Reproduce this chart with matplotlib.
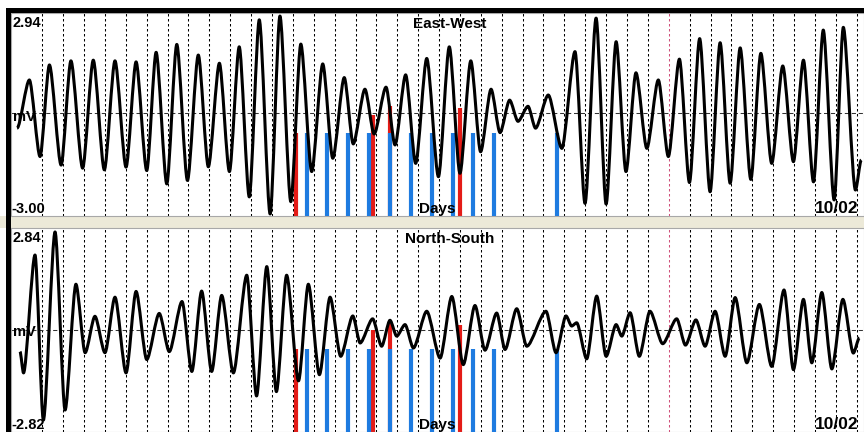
import matplotlib
matplotlib.use("Agg")
import matplotlib.pyplot as plt
from matplotlib.patches import Rectangle, PathPatch
from matplotlib.path import Path

plt.rcParams['font.family'] = ['Liberation Sans', 'DejaVu Sans']
plt.rcParams['lines.scale_dashes'] = False

# East-West channel: turning points (day, mV)
ew_day = [-1.21, -0.62, -0.11, 0.34, 0.90, 1.37, 1.93, 2.44, 2.97, 3.48, 4.01, 4.49, 5.00, 5.45,
          5.96, 6.44, 6.95, 7.47, 7.95, 8.48, 8.96, 9.43, 9.91, 10.39, 10.91, 11.38, 11.90, 12.38,
          12.90, 13.43, 13.91, 14.46, 14.89, 15.45, 15.89, 16.46, 16.89, 17.40, 17.88, 18.41, 18.97,
          19.49, 20.00, 20.52, 20.99, 21.49, 21.92, 22.38, 22.78, 23.26, 23.62, 24.23, 24.88, 25.51,
          25.99, 26.52, 27.00, 27.48, 27.95, 28.43, 28.95, 29.50, 29.98, 30.51, 30.99, 31.48, 31.98,
          32.46, 32.94, 33.42, 33.93, 34.41, 34.93, 35.46, 35.97, 36.45, 36.93, 37.40, 37.92, 38.36,
          38.94, 39.22]
ew_mv = [-0.43, 0.98, -1.26, 1.42, -1.51, 1.54, -1.60, 1.56, -1.65, 1.54, -1.57, 1.51, -1.67, 1.79,
         -2.06, 2.02, -1.96, 1.71, -1.56, 1.47, -1.70, 1.95, -2.44, 2.74, -2.94, 2.85, -2.58, 2.03,
         -1.70, 1.45, -1.31, 1.05, -0.89, 0.71, -0.60, 0.77, -0.92, 1.13, -1.46, 1.61, -1.85,
         1.95, -1.75, 1.54, -1.12, 0.71, -0.56, 0.39, -0.23, 0.21, -0.43, 0.54, -1.02, 1.81,
         -2.63, 2.79, -2.65, 2.10, -1.70, 1.19, -1.02, 0.98, -1.26, 1.59, -2.02, 2.19, -2.29,
         2.07, -2.04, 1.92, -1.93, 1.76, -1.46, 1.39, -1.41, 1.56, -2.00, 2.44, -2.53, 2.52,
         -2.24, -1.36]

# North-South channel
ns_day = [-1.07, -0.90, -0.35, 0.05, 0.61, 1.09, 1.61, 2.05, 2.52, 3.00, 3.48, 4.01, 4.49, 5.00,
          5.60, 6.08, 6.69, 7.16, 7.63, 8.11, 8.59, 9.15, 9.79, 10.26, 10.75, 11.21, 11.70, 12.27,
          12.74, 13.27, 13.78, 14.29, 14.87, 15.22, 15.82, 16.25, 16.65, 16.97, 17.37, 17.77, 18.41,
          19.05, 19.61, 20.16, 20.72, 21.20, 21.76, 22.16, 22.72, 23.20, 24.12, 24.60, 25.08, 25.35,
          25.59, 26.07, 26.55, 27.00, 27.48, 27.75, 28.15, 28.59, 29.10, 29.71, 30.38, 30.80, 31.30,
          31.74, 32.22, 32.70, 33.18, 33.74, 34.34, 34.93, 35.52, 35.97, 36.45, 36.85, 37.33, 37.81,
          38.34, 38.84, 39.13]
ns_mv = [-0.59, -1.18, 2.09, -2.49, 2.73, -2.21, 1.28, -0.62, 0.39, -0.62, 0.92, -1.18, 1.08, -0.81,
         0.47, -0.59, 0.80, -1.14, 1.09, -1.14, 0.97, -1.18, 1.53, -1.82, 1.77, -1.70, 1.53, -1.40,
         1.28, -1.23, 0.92, -0.72, 0.40, -0.35, 0.32, -0.44, 0.28, -0.16, 0.16, -0.49, 0.53,
         -0.77, 0.94, -0.95, 0.69, -0.55, 0.48, -0.53, 0.60, -0.44, 0.53, -0.62, 0.40, 0.12,
         0.21, -0.79, 0.95, -0.72, 0.16, -0.16, 0.49, -0.72, 0.53, -0.37, 0.32, -0.41, 0.29,
         -0.44, 0.53, -0.72, 0.91, -0.90, 0.72, -1.00, 1.12, -1.09, 0.86, -0.90, 1.05, -1.07,
         0.86, -0.63, -0.21]

# event markers
blue_days = [12.66, 13.62, 14.63, 15.66, 16.65, 17.66, 18.65, 19.65, 20.64, 21.65, 24.64]
red_days = [12.13, 15.82, 16.65, 20.0]
ew_red_top = [-0.57, -0.04, 0.22, 0.16]
ns_red_top = [-0.53, 0.0, 0.26, 0.14]
ew_blue_top = -0.57
ns_blue_top = -0.53

ew_range = (-3.00, 2.94)
ns_range = (-2.82, 2.84)
grid_days = list(range(0, 40))
red_grid_day = 30
end_label = "10/02"

W, H = 864, 432
fig = plt.figure(figsize=(W / 100, H / 100), dpi=100)
fig.patch.set_facecolor('white')

# window chrome: beige strip between panels, black frame top and left
fig.add_artist(Rectangle((0, 1 - 228 / H), 1, 12 / H, transform=fig.transFigure,
                         facecolor='#ECE9D8', edgecolor='none', zorder=0))
fig.add_artist(Rectangle((6 / W, 1 - 12.5 / H), 1, 4.5 / H, transform=fig.transFigure,
                         facecolor='black', edgecolor='none', zorder=5))
fig.add_artist(Rectangle((6 / W, 0), 4.5 / W, 1 - 8 / H, transform=fig.transFigure,
                         facecolor='black', edgecolor='none', zorder=5))

ax1 = fig.add_axes([11 / W, 1 - 216 / H, 853 / W, 203 / H])
ax2 = fig.add_axes([11 / W, 0, 853 / W, 204 / H])


def smooth_trace(days, mv):
    # cubic segments with flat tangents at each turning point
    verts = [(days[0], mv[0])]
    codes = [Path.MOVETO]
    for i in range(1, len(days)):
        x0, y0 = days[i - 1], mv[i - 1]
        x1, y1 = days[i], mv[i]
        k = 0.27 * (x1 - x0)
        verts += [(x0 + k, y0), (x1 - k, y1), (x1, y1)]
        codes += [Path.CURVE4] * 3
    return Path(verts, codes)


def draw_panel(ax, days, mv, yr, title, red_top, blue_top, top_lbl, bot_lbl, title_y):
    ax.set_xlim(-1.5, 39.35)
    ax.set_ylim(*yr)
    ax.set_xticks([])
    ax.set_yticks([])
    for s in ax.spines.values():
        s.set_color('#A8A8A8')
        s.set_linewidth(0.8)

    for d in grid_days:
        col = '#D0507A' if d == red_grid_day else 'black'
        ax.axvline(d, color=col, lw=0.75, dashes=(1.8, 1.8), zorder=1)
    ax.axhline(0, color='#333333', lw=0.75, dashes=(3, 2), zorder=1)

    ax.vlines(red_days, yr[0], red_top, color='#E41B17', lw=3.0, zorder=2)
    ax.vlines(blue_days, yr[0], blue_top, color='#1E7BE0', lw=3.0, zorder=3)

    ax.add_patch(PathPatch(smooth_trace(days, mv), facecolor='none', edgecolor='black',
                           lw=2.2, joinstyle='round', zorder=4))

    fs = 10.5
    kw = dict(transform=ax.transAxes, fontweight='bold', zorder=6)
    ax.text(0.002, 0.985, top_lbl, ha='left', va='top', fontsize=fs, **kw)
    ax.text(0.0, 0.015, bot_lbl, ha='left', va='baseline', fontsize=fs, **kw)
    ax.text(0.002, 0.49, "mV", ha='left', va='center', fontsize=fs, **kw)
    ax.text(0.514, title_y, title, ha='center', va='baseline', fontsize=11, **kw)
    ax.text(0.5, 0.015, "Days", ha='center', va='baseline', fontsize=11, **kw)
    ax.text(0.994, 0.015, end_label, ha='right', va='baseline', fontsize=12.5, **kw)


draw_panel(ax1, ew_day, ew_mv, ew_range, "East-West", ew_red_top, ew_blue_top, "2.94", "-3.00", 0.925)
draw_panel(ax2, ns_day, ns_mv, ns_range, "North-South", ns_red_top, ns_blue_top, "2.84", "-2.82", 0.925)

fig.savefig("out.png", dpi=100)
